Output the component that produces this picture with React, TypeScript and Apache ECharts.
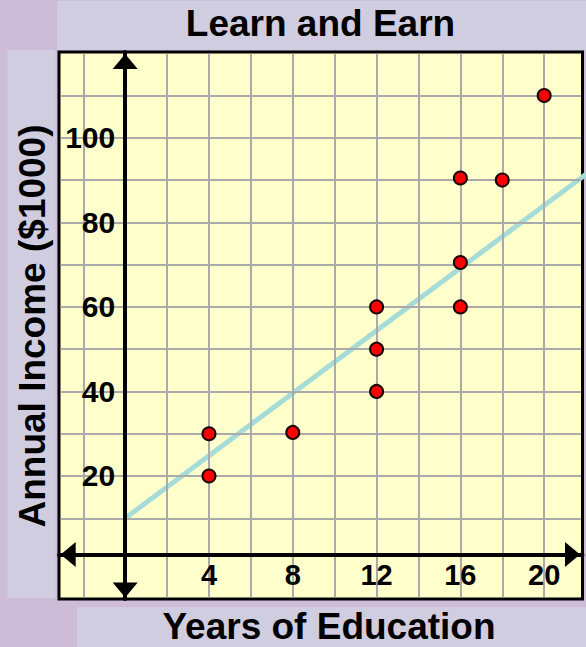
import React, { useEffect, useRef } from "react";
import * as echarts from "echarts";

const titleText = "Learn and Earn";
const xAxisName = "Years of Education";
const yAxisName = "Annual Income ($1000)";

const educationYears = [4, 4, 8, 12, 12, 12, 16, 16, 16, 18, 20];
const annualIncome = [20, 30, 30.3, 40, 50, 60, 60, 70.5, 90.5, 90, 110];

const trendYears = [0, 22];
const trendIncome = [10, 91.4];

const xTickLabels = [4, 8, 12, 16, 20];
const yTickLabels = [20, 40, 60, 80, 100];
const xGridValues = [-2, 0, 2, 4, 6, 8, 10, 12, 14, 16, 18, 20];
const yGridValues = [10, 20, 30, 40, 50, 60, 70, 80, 90, 100, 110];
const xExtent = [-3.16, 21.83];
const yExtent = [-9.1, 120.3];

const FONT = '"Liberation Sans", Arial, sans-serif';

export default function App() {
  const ref = useRef<HTMLDivElement>(null);

  useEffect(() => {
    if (!ref.current) return;
    const chart = echarts.init(ref.current, undefined, { renderer: "svg" });

    const points = educationYears.map((x, i) => [x, annualIncome[i]]);
    const trend = trendYears.map((x, i) => [x, trendIncome[i]]);

    const yInset = 0.4;
    const xInset = 0.08;
    const gridLines: any[] = [];
    xGridValues.forEach((v) => {
      gridLines.push([
        { coord: [v, yExtent[0] + yInset] },
        { coord: [v, yExtent[1] - yInset] },
      ]);
    });
    yGridValues.forEach((v) => {
      gridLines.push([
        { coord: [xExtent[0] + xInset, v] },
        { coord: [xExtent[1] - xInset, v] },
      ]);
    });

    const textStyle = (extra: any) => ({
      fill: "#000",
      font: `bold 37px ${FONT}`,
      align: "center",
      verticalAlign: "middle",
      textAlign: "center",
      textVerticalAlign: "middle",
      ...extra,
    });

    const gridLeft = 59;
    const gridWidth = 523.5;
    // pixel offset of the y axis line (at x = 0) from the plot's left edge
    const yAxisOffset = -((0 - xExtent[0]) / (xExtent[1] - xExtent[0])) * gridWidth;

    chart.setOption({
      animation: false,
      backgroundColor: "#CDBCD8",
      grid: {
        show: true,
        left: gridLeft,
        top: 52,
        width: gridWidth,
        height: 547,
        backgroundColor: "#FFFFCC",
        borderColor: "#000",
        borderWidth: 3,
      },
      graphic: [
        { type: "rect", z: -10, shape: { x: 57, y: 1, width: 529, height: 49 }, style: { fill: "#D0CDE0" } },
        { type: "rect", z: -10, shape: { x: 7.5, y: 50, width: 48, height: 548 }, style: { fill: "#D0CDE0" } },
        { type: "rect", z: -10, shape: { x: 77, y: 607, width: 509, height: 40 }, style: { fill: "#D0CDE0" } },
        { type: "text", x: 320.5, y: 23, style: textStyle({ text: titleText }) },
        { type: "text", x: 329, y: 626, style: textStyle({ text: xAxisName }) },
        { type: "text", x: 32.5, y: 326, rotation: Math.PI / 2, style: textStyle({ text: yAxisName }) },
      ],
      xAxis: {
        type: "value",
        min: xExtent[0],
        max: xExtent[1],
        offset: -44.5,
        z: 10,
        axisLine: {
          show: true,
          onZero: false,
          lineStyle: { color: "#000", width: 4 },
          symbol: ["triangle", "triangle"],
          symbolSize: [25, 15],
          symbolOffset: [9.2, -10],
        },
        axisTick: { show: false },
        splitLine: { show: false },
        axisLabel: {
          customValues: xTickLabels,
          fontSize: 29,
          fontWeight: "bold",
          fontFamily: FONT,
          color: "#000",
          margin: 6,
        },
      },
      yAxis: {
        type: "value",
        min: yExtent[0],
        max: yExtent[1],
        offset: yAxisOffset,
        z: 10,
        axisLine: {
          show: true,
          onZero: false,
          lineStyle: { color: "#000", width: 4 },
          symbol: ["triangle", "triangle"],
          symbolSize: [25, 15],
          symbolOffset: [9, -9.5],
        },
        axisTick: { show: false },
        splitLine: { show: false },
        axisLabel: {
          customValues: yTickLabels,
          fontSize: 30,
          fontWeight: "bold",
          fontFamily: FONT,
          color: "#000",
          margin: 10,
        },
      },
      series: [
        {
          type: "line",
          name: "grid",
          data: [],
          z: 1,
          silent: true,
          markLine: {
            silent: true,
            symbol: ["none", "none"],
            label: { show: false },
            lineStyle: { color: "#AAAAAA", width: 2, type: "solid" },
            emphasis: { disabled: true },
            data: gridLines,
          },
        },
        {
          type: "line",
          name: "trend",
          data: trend,
          z: 3,
          symbol: "none",
          silent: true,
          lineStyle: { color: "#A6DCD8", width: 5 },
        },
        {
          type: "scatter",
          name: "Learn and Earn",
          data: points,
          z: 5,
          symbol: "circle",
          symbolSize: 13,
          itemStyle: { color: "#FF0000", borderColor: "#1A0000", borderWidth: 2, opacity: 1 },
        },
      ],
    });

    return () => chart.dispose();
  }, []);

  return (
    <div
      ref={ref}
      style={{ position: "absolute", left: 0, top: 0, width: 586, height: 647 }}
    />
  );
}
